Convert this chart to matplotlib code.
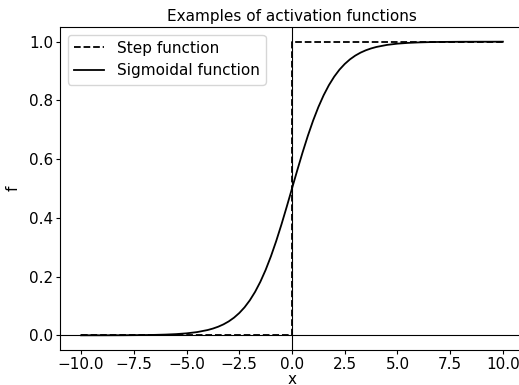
import matplotlib.pyplot as plt

# step function corners
step_x = [-10, 0, 0, 10]
step_y = [0, 0, 1, 1]

# sigmoid curve, values
sig_x = [-10, -9.5, -9, -8.5, -8, -7.5, -7, -6.5, -6, -5.5, -5, -4.5, -4,
         -3.75, -3.5, -3.25, -3, -2.75, -2.5, -2.25, -2, -1.75, -1.5, -1.25,
         -1, -0.75, -0.5, -0.25, 0, 0.25, 0.5, 0.75, 1, 1.25, 1.5, 1.75, 2,
         2.25, 2.5, 2.75, 3, 3.25, 3.5, 3.75, 4, 4.5, 5, 5.5, 6, 6.5, 7, 7.5,
         8, 8.5, 9, 9.5, 10]
sig_y = [0.0000, 0.0001, 0.0001, 0.0002, 0.0003, 0.0006, 0.0009, 0.0015,
         0.0025, 0.0041, 0.0067, 0.0110, 0.0180, 0.0230, 0.0293, 0.0373,
         0.0474, 0.0601, 0.0759, 0.0953, 0.1192, 0.1480, 0.1824, 0.2227,
         0.2689, 0.3208, 0.3775, 0.4378, 0.5000, 0.5622, 0.6225, 0.6792,
         0.7311, 0.7773, 0.8176, 0.8520, 0.8808, 0.9047, 0.9241, 0.9399,
         0.9526, 0.9627, 0.9707, 0.9770, 0.9820, 0.9890, 0.9933, 0.9959,
         0.9975, 0.9985, 0.9991, 0.9994, 0.9997, 0.9998, 0.9999, 0.9999,
         1.0000]

fig = plt.figure(figsize=(5.19, 3.85), dpi=100)
ax = fig.add_axes([60 / 519, 1 - 350 / 385, 464 / 519, 323 / 385])

ax.plot(step_x, step_y, 'k--', lw=1.3, label='Step function')
ax.plot(sig_x, sig_y, 'k-', lw=1.3, label='Sigmoidal function')
ax.axhline(0, color='k', lw=0.8)
ax.axvline(0, color='k', lw=0.8)

ax.set_xlim(-11, 11)
ax.set_ylim(-0.05, 1.05)
ax.set_title('Examples of activation functions', fontsize=11, pad=4)
ax.set_xlabel('x', fontsize=11, labelpad=0)
ax.set_ylabel('f', fontsize=11, labelpad=6)
ax.tick_params(labelsize=11, length=3, pad=2)
ax.legend(loc='upper left', fontsize=11)

fig.savefig('out.png', dpi=100)
